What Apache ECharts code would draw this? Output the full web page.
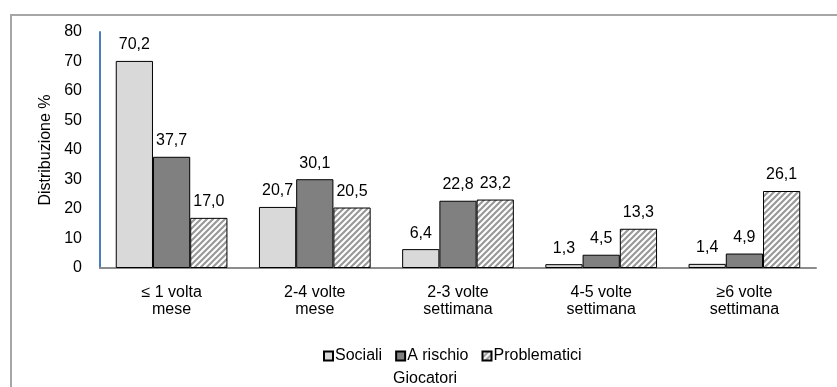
<!DOCTYPE html>
<html>
	<head>
		<meta charset="utf-8">
		<title>Giocatori</title>
		<script src="https://cdn.jsdelivr.net/npm/echarts@6/dist/echarts.min.js"></script>
		<style>
			body { margin: 0; background: #fff; }
		</style>
	</head>
	<body>
		<div id="box" style="width: 837px;height: 387px;"></div>
		<script>
			var categorie = ['≤ 1 volta\nmese', '2-4 volte\nmese', '2-3 volte\nsettimana', '4-5 volte\nsettimana', '≥6 volte\nsettimana']
			var sociali = [70.2, 20.7, 6.4, 1.3, 1.4]
			var aRischio = [37.7, 30.1, 22.8, 4.5, 4.9]
			var problematici = [17.0, 20.5, 23.2, 13.3, 26.1]
			var yTicks = [0, 10, 20, 30, 40, 50, 60, 70, 80]

			// tratteggio diagonale per i problematici
			var cv = document.createElement('canvas')
			cv.width = 6
			cv.height = 6
			var ctx = cv.getContext('2d')
			ctx.fillStyle = '#ffffff'
			ctx.fillRect(0, 0, 6, 6)
			ctx.strokeStyle = '#999999'
			ctx.lineWidth = 2.2
			ctx.beginPath()
			ctx.moveTo(-1, 7); ctx.lineTo(7, -1)
			ctx.moveTo(-1, 1); ctx.lineTo(1, -1)
			ctx.moveTo(5, 7); ctx.lineTo(7, 5)
			ctx.stroke()

			var mCharts = echarts.init(document.querySelector('#box'))
			var font = 'Liberation Sans, Arial, sans-serif'

			function etichetta(p) {
				return p.value.toFixed(1).replace('.', ',')
			}

			var label = {
				show: true,
				position: 'top',
				distance: 8,
				color: '#000',
				fontSize: 16,
				fontFamily: font,
				formatter: etichetta
			}

			var option = {
				animation: false,
				textStyle: { fontFamily: font },
				graphic: [
					{
						type: 'polyline',
						shape: { points: [[11, 387], [11, 15], [837, 15]] },
						style: { stroke: '#a6a6a6', lineWidth: 2, fill: null }
					}
				],
				grid: { left: 100, right: 21, top: 32, bottom: 119, outerBoundsMode: 'none' },
				legend: {
					left: 318,
					top: 343,
					itemWidth: 9,
					itemHeight: 9,
					itemGap: 13,
					icon: 'rect',
					textStyle: { fontSize: 16, color: '#000', fontFamily: font, padding: [0, 0, 0, -3] },
					data: ['Sociali', 'A rischio', 'Problematici']
				},
				xAxis: {
					type: 'category',
					data: categorie,
					name: 'Giocatori',
					nameLocation: 'middle',
					nameGap: 103,
					nameTextStyle: { fontSize: 16, color: '#000', fontFamily: font, padding: [0, 66, 0, 0] },
					axisLine: { lineStyle: { color: '#8c8c8c', width: 2 } },
					axisTick: { show: false },
					axisLabel: { color: '#000', fontSize: 16, lineHeight: 17, margin: 16, fontFamily: font }
				},
				yAxis: {
					type: 'value',
					min: 0,
					max: 80,
					interval: 10,
					name: 'Distribuzione %',
					nameLocation: 'middle',
					nameRotate: 90,
					nameGap: 42,
					nameTextStyle: { fontSize: 16, color: '#000', fontFamily: font },
					axisLine: { show: true, lineStyle: { color: '#4a7ebb', width: 2 } },
					axisTick: { show: false },
					splitLine: { show: false },
					axisLabel: {
						color: '#000', fontSize: 16, margin: 18, fontFamily: font,
						formatter: function (v) { return yTicks.indexOf(v) >= 0 ? v : '' }
					}
				},
				series: [
					{
						name: 'Sociali',
						type: 'bar',
						data: sociali,
						barGap: '0%',
						barCategoryGap: '22%',
						itemStyle: { color: '#d9d9d9', borderColor: '#000', borderWidth: 1 },
						label: label
					},
					{
						name: 'A rischio',
						type: 'bar',
						data: aRischio,
						barGap: '0%',
						barCategoryGap: '22%',
						itemStyle: { color: '#808080', borderColor: '#000', borderWidth: 1 },
						label: label
					},
					{
						name: 'Problematici',
						type: 'bar',
						data: problematici,
						barGap: '0%',
						barCategoryGap: '22%',
						itemStyle: { color: { image: cv, repeat: 'repeat' }, borderColor: '#000', borderWidth: 1 },
						label: label
					}
				]
			}
			mCharts.setOption(option)
		</script>
	</body>
</html>
